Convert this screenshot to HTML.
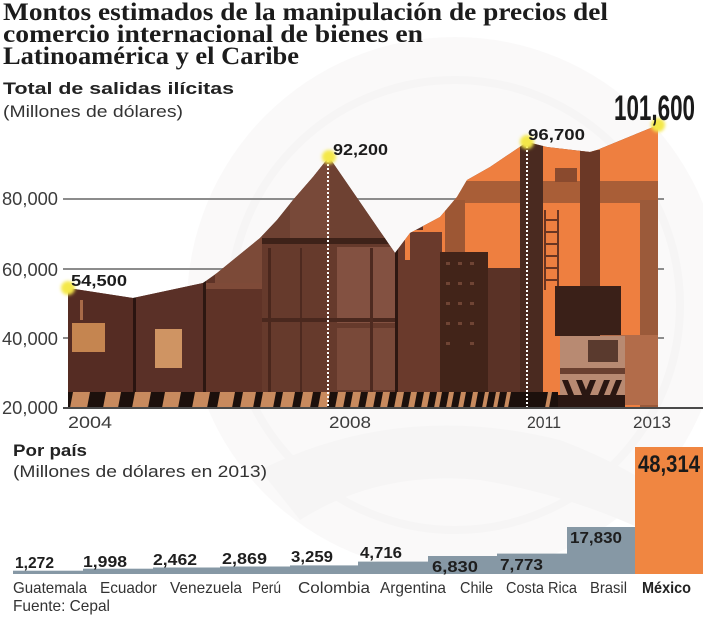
<!DOCTYPE html>
<html><head><meta charset="utf-8"><style>
html,body{margin:0;padding:0;background:#fff;}
svg{display:block;}
text{font-family:"Liberation Sans",sans-serif;}
.ser{font-family:"Liberation Serif",serif;font-weight:bold;fill:#1c1c1c;font-size:25px;}
.yl{font-size:18px;fill:#3c3c3c;}
.yr{font-size:17px;fill:#3c3c3c;}
.pl{font-size:16px;font-weight:bold;fill:#1c1c1c;}
.bv{font-size:16px;font-weight:bold;fill:#1e1e1e;}
.cn{font-size:16px;fill:#333;}
</style></head><body>
<svg width="703" height="620" viewBox="0 0 703 620" xmlns="http://www.w3.org/2000/svg">
<defs>
<clipPath id="area"><polygon points="68,288 133,298 203,283 217,273 233,260 260,238 277,220 293,200 313,177 329,157 395,253 410,233 440,217 457,197 467,180 490,167 527,142 547,147 590,152 597,150 658,125 658,408 68,408"/></clipPath>
<filter id="glow" x="-1" y="-1" width="3" height="3"><feGaussianBlur stdDeviation="1.6"/></filter>
</defs>

<!-- watermark (faint) -->
<g opacity="0.35">
<circle cx="455" cy="305" r="268" fill="#f1efef"/>
<circle cx="455" cy="305" r="225" fill="none" stroke="#e6e3e3" stroke-width="8"/>
<path d="M260 470 Q400 400 560 440 Q640 470 700 520 L700 560 Q600 500 480 480 Q380 470 300 520 Z" fill="#e8e5e5"/>
</g>

<!-- title -->
<text class="ser" x="3" y="20" textLength="605" lengthAdjust="spacingAndGlyphs">Montos estimados de la manipulación de precios del</text>
<text class="ser" x="3" y="42" textLength="420" lengthAdjust="spacingAndGlyphs">comercio internacional de bienes en</text>
<text class="ser" x="3" y="64" textLength="296" lengthAdjust="spacingAndGlyphs">Latinoamérica y el Caribe</text>

<text x="3" y="94" font-size="17" font-weight="bold" fill="#222" textLength="231" lengthAdjust="spacingAndGlyphs">Total de salidas ilícitas</text>
<text x="3" y="117" font-size="17" fill="#333" textLength="180" lengthAdjust="spacingAndGlyphs">(Millones de dólares)</text>

<!-- gridlines -->
<g stroke="#8c8c8c" stroke-width="2">
<line x1="63" y1="199" x2="664" y2="199"/>
<line x1="63" y1="269" x2="664" y2="269"/>
<line x1="63" y1="338" x2="664" y2="338"/>
</g>
<text class="yl" x="2" y="205" textLength="56" lengthAdjust="spacingAndGlyphs">80,000</text>
<text class="yl" x="2" y="276" textLength="56" lengthAdjust="spacingAndGlyphs">60,000</text>
<text class="yl" x="2" y="345" textLength="56" lengthAdjust="spacingAndGlyphs">40,000</text>
<text class="yl" x="2" y="414" textLength="56" lengthAdjust="spacingAndGlyphs">20,000</text>

<!-- photo area -->
<g clip-path="url(#area)">
<rect x="60" y="120" width="600" height="300" fill="#5e3327"/>
<rect x="68" y="280" width="65" height="115" fill="#552c23"/>
<rect x="133" y="280" width="3" height="115" fill="#2a1410"/>
<rect x="136" y="280" width="68" height="115" fill="#5a3027"/>
<rect x="72" y="323" width="33" height="29" fill="#c58550"/>
<rect x="155" y="329" width="27" height="39" fill="#cf9463"/>
<rect x="80" y="300" width="3" height="20" fill="#a86a48"/>
<rect x="203" y="281" width="3" height="115" fill="#2d1711"/>
<rect x="206" y="283" width="56" height="112" fill="#5f3327"/>
<rect x="206" y="283" width="56" height="6" fill="#7e4a38"/>
<rect x="215" y="235" width="50" height="48" fill="#7c4a38"/>
<rect x="262" y="150" width="135" height="92" fill="#6e4132"/>
<rect x="290" y="150" width="40" height="92" fill="#784939"/>
<rect x="262" y="238" width="135" height="6" fill="#3e2219"/>
<rect x="262" y="244" width="135" height="150" fill="#663a2c"/>
<rect x="337" y="247" width="58" height="76" fill="#835141"/>
<rect x="337" y="328" width="58" height="62" fill="#794939"/>
<rect x="268" y="248" width="3" height="145" fill="#4a271d"/>
<rect x="300" y="248" width="2" height="145" fill="#4e2a20"/>
<rect x="262" y="318" width="135" height="4" fill="#4a281e"/>
<rect x="370" y="248" width="3" height="145" fill="#4e2a20"/>
<rect x="395" y="240" width="3" height="155" fill="#2d1711"/>
<rect x="398" y="240" width="25" height="155" fill="#6a3a2c"/>
<rect x="423" y="120" width="240" height="290" fill="#ee7f40"/>
<rect x="405" y="230" width="18" height="30" fill="#ee7f40"/>
<rect x="440" y="181" width="220" height="22" fill="#a95e37"/>
<rect x="555" y="168" width="22" height="14" fill="#8a4a2e"/>
<rect x="445" y="200" width="20" height="110" fill="#9d5734"/>
<rect x="640" y="200" width="18" height="210" fill="#9b5a3a"/>
<rect x="580" y="150" width="20" height="185" fill="#6b3826"/>
<g stroke="#6a3522" stroke-width="2"><line x1="545" y1="210" x2="545" y2="290"/><line x1="558" y1="210" x2="558" y2="290"/>
<line x1="545" y1="220" x2="558" y2="220"/><line x1="545" y1="232" x2="558" y2="232"/><line x1="545" y1="244" x2="558" y2="244"/><line x1="545" y1="256" x2="558" y2="256"/><line x1="545" y1="268" x2="558" y2="268"/><line x1="545" y1="280" x2="558" y2="280"/></g>
<rect x="410" y="232" width="32" height="165" fill="#6a3a2c"/>
<rect x="440" y="252" width="48" height="145" fill="#422419"/>
<g fill="#6f4434"><rect x="446" y="262" width="4" height="3"/><rect x="458" y="262" width="4" height="3"/><rect x="470" y="262" width="4" height="3"/><rect x="446" y="282" width="4" height="3"/><rect x="458" y="282" width="4" height="3"/><rect x="470" y="282" width="4" height="3"/><rect x="446" y="302" width="4" height="3"/><rect x="458" y="302" width="4" height="3"/><rect x="470" y="302" width="4" height="3"/><rect x="446" y="322" width="4" height="3"/><rect x="458" y="322" width="4" height="3"/><rect x="470" y="322" width="4" height="3"/><rect x="446" y="342" width="4" height="3"/><rect x="470" y="342" width="4" height="3"/></g>
<rect x="488" y="268" width="34" height="130" fill="#5a3226"/>
<rect x="520" y="140" width="23" height="270" fill="#4a2a20"/>
<rect x="555" y="286" width="66" height="50" fill="#3a2018"/>
<rect x="600" y="335" width="58" height="70" fill="#b26c4a"/>
<rect x="560" y="336" width="65" height="60" fill="#b88a72"/>
<rect x="588" y="340" width="30" height="22" fill="#5a3a2e"/>
<rect x="560" y="368" width="65" height="6" fill="#6a4030"/>
<g fill="#2a1712"><polygon points="562,380 568,380 574,395 568,395"/><polygon points="576,380 582,380 588,395 582,395"/><polygon points="590,380 596,380 590,395 584,395"/><polygon points="604,380 610,380 604,395 598,395"/><polygon points="616,380 622,380 616,395 610,395"/></g>
<rect x="555" y="395" width="70" height="15" fill="#2a1712"/>
<rect x="68" y="392" width="490" height="16" fill="#1c100c"/>
<g fill="#c88a5e">
<polygon points="70,408 87,408 90,392 73,392"/>
<polygon points="103,408 118,408 121,392 106,392"/>
<polygon points="132,408 148,408 151,392 135,392"/>
<polygon points="162,408 178,408 181,392 165,392"/>
<polygon points="192,408 207,408 210,392 195,392"/>
<polygon points="217,408 232,408 235,392 220,392"/>
<polygon points="240,408 253,408 256,392 243,392"/>
<polygon points="260,408 273,408 276,392 263,392"/>
<polygon points="280,408 292,408 295,392 283,392"/>
<polygon points="300,408 310,408 313,392 303,392"/>
<polygon points="318,408 327,408 330,392 321,392"/>
<polygon points="335,408 343,408 346,392 338,392"/>
<polygon points="350,408 358,408 361,392 353,392"/>
<polygon points="365,408 373,408 376,392 368,392"/>
<polygon points="380,408 387,408 390,392 383,392"/>
<polygon points="394,408 401,408 404,392 397,392"/>
<polygon points="408,408 414,408 417,392 411,392"/>
<polygon points="421,408 427,408 430,392 424,392"/>
<polygon points="434,408 439,408 442,392 437,392"/>
<polygon points="446,408 451,408 454,392 449,392"/>
<polygon points="458,408 463,408 466,392 461,392"/>
<polygon points="470,408 475,408 478,392 473,392"/>
<polygon points="482,408 486,408 489,392 485,392"/>
<polygon points="493,408 497,408 500,392 496,392"/>
<polygon points="504,408 508,408 511,392 507,392"/>
<polygon points="545,408 549,408 552,392 548,392"/>
</g>
</g>

<line x1="328" y1="160" x2="328" y2="407" stroke="#fff" stroke-width="2" stroke-dasharray="2,2"/>
<line x1="527" y1="146" x2="527" y2="407" stroke="#fff" stroke-width="2" stroke-dasharray="2,2"/>

<line x1="63" y1="408" x2="703" y2="408" stroke="#4a4a4a" stroke-width="2"/>

<g fill="#f4e84a">
<circle cx="68" cy="288" r="7" filter="url(#glow)"/>
<circle cx="329" cy="157" r="7" filter="url(#glow)"/>
<circle cx="527" cy="142" r="7" filter="url(#glow)"/>
<circle cx="658" cy="125" r="7" filter="url(#glow)"/>
</g>

<text class="pl" x="71" y="286" textLength="56" lengthAdjust="spacingAndGlyphs">54,500</text>
<text class="pl" x="333" y="155" textLength="55" lengthAdjust="spacingAndGlyphs">92,200</text>
<text class="pl" x="528" y="140" textLength="57" lengthAdjust="spacingAndGlyphs">96,700</text>
<text x="614" y="120" font-size="35" font-weight="bold" fill="#1a1a1a" textLength="81" lengthAdjust="spacingAndGlyphs">101,600</text>

<text class="yr" x="68" y="428" textLength="44" lengthAdjust="spacingAndGlyphs">2004</text>
<text class="yr" x="329" y="428" textLength="42" lengthAdjust="spacingAndGlyphs">2008</text>
<text class="yr" x="527" y="428" textLength="34" lengthAdjust="spacingAndGlyphs">2011</text>
<text class="yr" x="633" y="428" textLength="38" lengthAdjust="spacingAndGlyphs">2013</text>

<text x="13" y="456" font-size="17" font-weight="bold" fill="#222" textLength="74" lengthAdjust="spacingAndGlyphs">Por país</text>
<text x="13" y="477" font-size="17" fill="#333" textLength="254" lengthAdjust="spacingAndGlyphs">(Millones de dólares en 2013)</text>

<g fill="#8698a5">
<rect x="13" y="570.7" width="70" height="3.3"/>
<rect x="83" y="568.7" width="70" height="5.3"/>
<rect x="153" y="567.5" width="67" height="6.5"/>
<rect x="220" y="566.5" width="70" height="7.5"/>
<rect x="290" y="565.4" width="68" height="8.6"/>
<rect x="358" y="561.6" width="70" height="12.4"/>
<rect x="428" y="556" width="69" height="18"/>
<rect x="497" y="553.6" width="70" height="20.4"/>
<rect x="567" y="527" width="68" height="47"/>
</g>
<rect x="635" y="447" width="68" height="127" fill="#f08641"/>

<text class="bv" x="15" y="568" textLength="39" lengthAdjust="spacingAndGlyphs">1,272</text>
<text class="bv" x="83" y="567" textLength="44" lengthAdjust="spacingAndGlyphs">1,998</text>
<text class="bv" x="153" y="565" textLength="44" lengthAdjust="spacingAndGlyphs">2,462</text>
<text class="bv" x="222" y="564" textLength="45" lengthAdjust="spacingAndGlyphs">2,869</text>
<text class="bv" x="291" y="562" textLength="42" lengthAdjust="spacingAndGlyphs">3,259</text>
<text class="bv" x="360" y="558" textLength="42" lengthAdjust="spacingAndGlyphs">4,716</text>
<text class="bv" x="432" y="572" textLength="46" lengthAdjust="spacingAndGlyphs">6,830</text>
<text class="bv" x="500" y="570" textLength="43" lengthAdjust="spacingAndGlyphs">7,773</text>
<text class="bv" x="570" y="543" textLength="52" lengthAdjust="spacingAndGlyphs">17,830</text>
<text x="638" y="472" font-size="24" font-weight="bold" fill="#1a1a1a" textLength="62" lengthAdjust="spacingAndGlyphs">48,314</text>

<text class="cn" x="13" y="593" textLength="74" lengthAdjust="spacingAndGlyphs">Guatemala</text>
<text class="cn" x="100" y="593" textLength="57" lengthAdjust="spacingAndGlyphs">Ecuador</text>
<text class="cn" x="170" y="593" textLength="72" lengthAdjust="spacingAndGlyphs">Venezuela</text>
<text class="cn" x="252" y="593" textLength="29" lengthAdjust="spacingAndGlyphs">Perú</text>
<text class="cn" x="298" y="593" textLength="72" lengthAdjust="spacingAndGlyphs">Colombia</text>
<text class="cn" x="380" y="593" textLength="66" lengthAdjust="spacingAndGlyphs">Argentina</text>
<text class="cn" x="460" y="593" textLength="33" lengthAdjust="spacingAndGlyphs">Chile</text>
<text class="cn" x="506" y="593" textLength="71" lengthAdjust="spacingAndGlyphs">Costa Rica</text>
<text class="cn" x="590" y="593" textLength="37" lengthAdjust="spacingAndGlyphs">Brasil</text>
<text x="642" y="593" font-size="16" font-weight="bold" fill="#222" textLength="49" lengthAdjust="spacingAndGlyphs">México</text>

<text class="cn" x="13" y="611" textLength="97" lengthAdjust="spacingAndGlyphs">Fuente: Cepal</text>
</svg>
</body></html>
